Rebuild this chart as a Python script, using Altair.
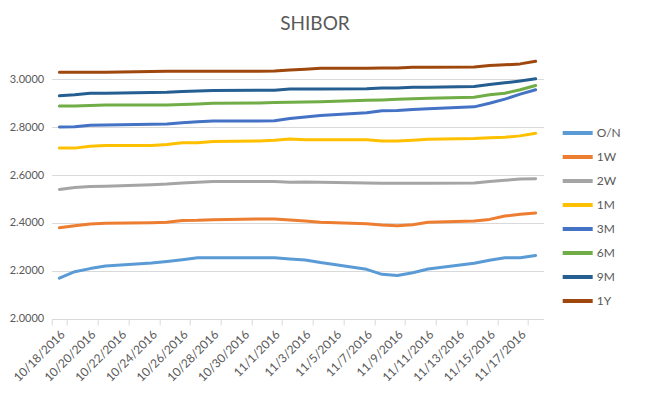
import altair as alt
import pandas as pd

# All calendar days shown on the category axis (axis labels)
calendar_days = [
    "10/18/2016", "10/19/2016", "10/20/2016", "10/21/2016", "10/22/2016", "10/23/2016",
    "10/24/2016", "10/25/2016", "10/26/2016", "10/27/2016", "10/28/2016", "10/29/2016",
    "10/30/2016", "10/31/2016", "11/1/2016", "11/2/2016", "11/3/2016", "11/4/2016",
    "11/5/2016", "11/6/2016", "11/7/2016", "11/8/2016", "11/9/2016", "11/10/2016",
    "11/11/2016", "11/12/2016", "11/13/2016", "11/14/2016", "11/15/2016", "11/16/2016",
    "11/17/2016", "11/18/2016",
]

# Fixing dates (business days)
dates = [
    "10/18/2016", "10/19/2016", "10/20/2016", "10/21/2016",
    "10/24/2016", "10/25/2016", "10/26/2016", "10/27/2016", "10/28/2016",
    "10/31/2016", "11/1/2016", "11/2/2016", "11/3/2016", "11/4/2016",
    "11/7/2016", "11/8/2016", "11/9/2016", "11/10/2016", "11/11/2016",
    "11/14/2016", "11/15/2016", "11/16/2016", "11/17/2016", "11/18/2016",
]

series = ["O/N", "1W", "2W", "1M", "3M", "6M", "9M", "1Y"]
colors = ["#5B9BD5", "#ED7D31", "#A5A5A5", "#FFC000", "#4472C4", "#70AD47", "#255E91", "#9E480E"]

on = [2.170, 2.197, 2.210, 2.221, 2.233, 2.240, 2.247, 2.255, 2.255, 2.255, 2.255, 2.250,
      2.246, 2.235, 2.207, 2.186, 2.181, 2.193, 2.208, 2.232, 2.245, 2.255, 2.255, 2.265]
w1 = [2.380, 2.389, 2.396, 2.399, 2.401, 2.403, 2.410, 2.411, 2.414, 2.417, 2.417, 2.412,
      2.408, 2.403, 2.397, 2.392, 2.389, 2.393, 2.403, 2.408, 2.415, 2.429, 2.436, 2.442]
w2 = [2.540, 2.548, 2.552, 2.553, 2.559, 2.562, 2.567, 2.570, 2.573, 2.573, 2.573, 2.570,
      2.571, 2.570, 2.567, 2.566, 2.566, 2.566, 2.566, 2.567, 2.573, 2.578, 2.583, 2.584]
m1 = [2.712, 2.712, 2.720, 2.723, 2.723, 2.727, 2.734, 2.734, 2.740, 2.742, 2.745, 2.750,
      2.747, 2.747, 2.747, 2.742, 2.742, 2.745, 2.749, 2.752, 2.755, 2.757, 2.763, 2.774]
m3 = [2.800, 2.801, 2.807, 2.808, 2.811, 2.813, 2.818, 2.822, 2.825, 2.825, 2.826, 2.835,
      2.842, 2.848, 2.859, 2.868, 2.869, 2.873, 2.876, 2.884, 2.899, 2.916, 2.937, 2.955]
m6 = [2.887, 2.887, 2.890, 2.892, 2.892, 2.892, 2.894, 2.896, 2.899, 2.900, 2.902, 2.903,
      2.904, 2.905, 2.911, 2.913, 2.916, 2.918, 2.920, 2.924, 2.934, 2.941, 2.955, 2.973]
m9 = [2.930, 2.934, 2.941, 2.941, 2.944, 2.945, 2.948, 2.950, 2.952, 2.953, 2.953, 2.958,
      2.958, 2.958, 2.959, 2.963, 2.963, 2.966, 2.966, 2.969, 2.977, 2.984, 2.992, 3.001]
y1 = [3.028, 3.028, 3.028, 3.028, 3.031, 3.032, 3.032, 3.032, 3.032, 3.032, 3.033, 3.037,
      3.041, 3.045, 3.045, 3.046, 3.046, 3.049, 3.049, 3.050, 3.056, 3.059, 3.063, 3.074]

values = [on, w1, w2, m1, m3, m6, m9, y1]

y_ticks = [2.0, 2.2, 2.4, 2.6, 2.8, 3.0]

rows = []
for name, vals in zip(series, values):
    for d, v in zip(dates, vals):
        rows.append({"date": d, "series": name, "rate": v})
df = pd.DataFrame(rows)

FONT = "Lato"
GREY = "#595959"

chart = (
    alt.Chart(df)
    .mark_line(strokeWidth=3, strokeCap="round", strokeJoin="round")
    .encode(
        x=alt.X(
            "date:O",
            bandPosition=0.5,
            scale=alt.Scale(type="band", domain=calendar_days, paddingInner=0, paddingOuter=0),
            axis=alt.Axis(
                title=None,
                values=calendar_days[::2],
                tickBand="extent",
                labelAngle=-45,
                labelAlign="right",
                labelBaseline="middle",
                labelPadding=7,
                labelOffset=3,
                labelFontSize=12,
                tickSize=6,
                tickColor="#D9D9D9",
                domainColor="#D9D9D9",
                grid=False,
            ),
        ),
        y=alt.Y(
            "rate:Q",
            scale=alt.Scale(domain=[2.0, 3.1], nice=False, zero=False),
            axis=alt.Axis(
                title=None,
                values=y_ticks,
                format=".4f",
                domain=False,
                ticks=False,
                labelPadding=8,
                labelFontSize=11,
                grid=True,
                gridColor="#D9D9D9",
            ),
        ),
        color=alt.Color(
            "series:N",
            sort=series,
            scale=alt.Scale(domain=series, range=colors),
            legend=alt.Legend(
                title=None,
                orient="none",
                legendX=509,
                legendY=66,
                symbolType="stroke",
                symbolSize=900,
                symbolStrokeWidth=4,
                labelFontSize=12,
                labelColor=GREY,
                labelFont=FONT,
                clipHeight=24,
                rowPadding=0,
                labelOffset=2,
                padding=0,
            ),
        ),
    )
    .properties(
        width=491.6,
        height=264,
        autosize=alt.AutoSizeParams(type="none"),
        padding={"left": 43.7, "top": 47, "right": 100, "bottom": 66},
        title=alt.TitleParams(
            "SHIBOR",
            font=FONT,
            fontSize=19,
            fontWeight="normal",
            color=GREY,
            anchor="middle",
            dx=17.5,
            offset=21,
        ),
    )
    .configure_view(stroke=None)
    .configure_axis(labelFont=FONT, labelColor=GREY)
)

chart.save("out.html", embed_options={"renderer": "svg", "actions": False})
